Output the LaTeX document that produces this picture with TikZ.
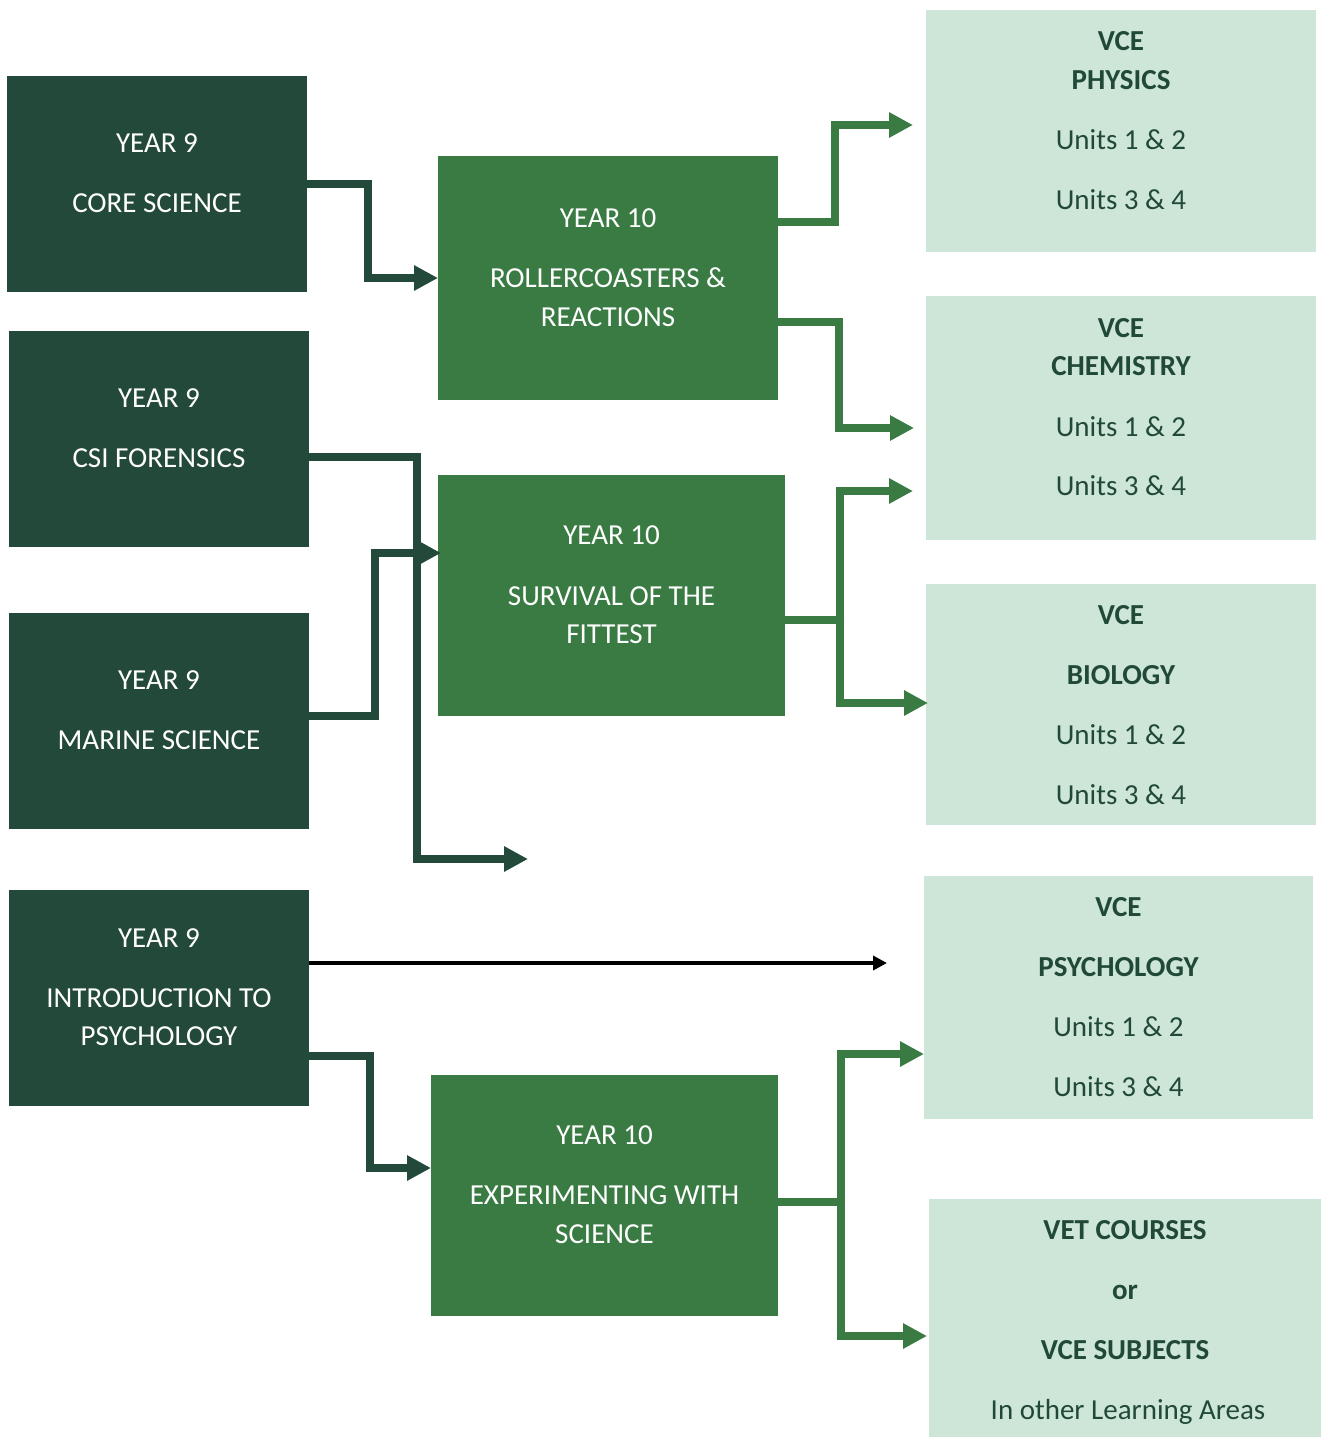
\documentclass[tikz,border=0pt]{standalone}
\usepackage{fontspec}
\setmainfont{Carlito}
\usetikzlibrary{arrows.meta}
\definecolor{darkbox}{HTML}{224939}
\definecolor{midbox}{HTML}{3A7B44}
\definecolor{lightbox}{HTML}{CEE6D8}
\definecolor{inktext}{HTML}{214937}

\begin{document}
\begin{tikzpicture}[x=1pt,y=-1pt,
  box/.style={draw=none, inner sep=0pt, outer sep=0pt, anchor=north west},
  yearnine/.style={box, fill=darkbox, minimum width=300pt, minimum height=216pt},
  yearten/.style={box, fill=midbox},
  vcebox/.style={box, fill=lightbox},
  lbl/.style={anchor=base, inner sep=0pt, font=\fontsize{29}{35}\selectfont},
  wlbl/.style={lbl, text=white},
  dlbl/.style={lbl, text=inktext},
  blbl/.style={dlbl, font=\fontsize{29}{35}\selectfont\bfseries},
  darklink/.style={draw=darkbox, line width=7.5pt, line join=miter,
    -{Triangle[length=24pt,width=24pt]}},
  midlink/.style={draw=midbox, line width=7.5pt, line join=miter,
    -{Triangle[length=24pt,width=24pt]}},
  blacklink/.style={draw=black, line width=4pt,
    -{Triangle[length=14pt,width=14pt]}}
]
\useasboundingbox (0,0) rectangle (1323,1438);

% Year 9 boxes
\node[yearnine] (core) at (7,76) {};
\node[yearnine] (csi) at (9,331) {};
\node[yearnine] (marine) at (9,613) {};
\node[yearnine] (psy9) at (9,890) {};

% Year 10 boxes
\node[yearten, minimum width=340pt, minimum height=244pt] (roller) at (438,156) {};
\node[yearten, minimum width=347pt, minimum height=241pt] (survival) at (438,475) {};
\node[yearten, minimum width=347pt, minimum height=241pt] (exper) at (431,1075) {};

% VCE / VET boxes
\node[vcebox, minimum width=390pt, minimum height=242pt] (physics) at (926,10) {};
\node[vcebox, minimum width=390pt, minimum height=244pt] (chem) at (926,296) {};
\node[vcebox, minimum width=390pt, minimum height=241pt] (bio) at (926,584) {};
\node[vcebox, minimum width=389pt, minimum height=243pt] (psych) at (924,876) {};
\node[vcebox, minimum width=392pt, minimum height=238pt] (vet) at (929,1199) {};

% Year 9 labels
\node[wlbl] (coreA) at (157,152.5) {YEAR 9};
\node[wlbl] (coreB) at (157,212.5) {CORE SCIENCE};
\node[wlbl] (csiA) at (159,407.5) {YEAR 9};
\node[wlbl] (csiB) at (159,467.5) {CSI FORENSICS};
\node[wlbl] (marineA) at (159,689.5) {YEAR 9};
\node[wlbl] (marineB) at (159,749.5) {MARINE SCIENCE};
\node[wlbl] (psy9A) at (159,947.5) {YEAR 9};
\node[wlbl] (psy9B) at (159,1007.5) {INTRODUCTION TO};
\node[wlbl] (psy9C) at (159,1045.5) {PSYCHOLOGY};

% Year 10 labels
\node[wlbl] (rollerA) at (608,227.5) {YEAR 10};
\node[wlbl] (rollerB) at (608,287.5) {ROLLERCOASTERS \&};
\node[wlbl] (rollerC) at (608,326.5) {REACTIONS};
\node[wlbl] (survA) at (611.5,544.5) {YEAR 10};
\node[wlbl] (survB) at (611.5,605.5) {SURVIVAL OF THE};
\node[wlbl] (survC) at (611.5,643.5) {FITTEST};
\node[wlbl] (experA) at (604.5,1144.5) {YEAR 10};
\node[wlbl] (experB) at (604.5,1204.5) {EXPERIMENTING WITH};
\node[wlbl] (experC) at (604.5,1243.5) {SCIENCE};

% VCE labels
\node[blbl] (physA) at (1121,50.5) {VCE};
\node[blbl] (physB) at (1121,89.5) {PHYSICS};
\node[dlbl] (physC) at (1121,149.5) {Units 1 \& 2};
\node[dlbl] (physD) at (1121,209.5) {Units 3 \& 4};
\node[blbl] (chemA) at (1121,337.5) {VCE};
\node[blbl] (chemB) at (1121,375.5) {CHEMISTRY};
\node[dlbl] (chemC) at (1121,436.5) {Units 1 \& 2};
\node[dlbl] (chemD) at (1121,495.5) {Units 3 \& 4};
\node[blbl] (bioA) at (1121,624.5) {VCE};
\node[blbl] (bioB) at (1121,684.5) {BIOLOGY};
\node[dlbl] (bioC) at (1121,744.5) {Units 1 \& 2};
\node[dlbl] (bioD) at (1121,804.5) {Units 3 \& 4};
\node[blbl] (psychA) at (1118.5,916.5) {VCE};
\node[blbl] (psychB) at (1118.5,976.5) {PSYCHOLOGY};
\node[dlbl] (psychC) at (1118.5,1036.5) {Units 1 \& 2};
\node[dlbl] (psychD) at (1118.5,1096.5) {Units 3 \& 4};
\node[blbl] (vetA) at (1125,1239.5) {VET COURSES};
\node[blbl] (vetB) at (1125,1299.5) {or};
\node[blbl] (vetC) at (1125,1359.5) {VCE SUBJECTS};
\node[dlbl] (vetD) at (1128,1419.5) {In other Learning Areas};

% Free end of the CSI Forensics pathway
\coordinate (csiend) at (528,859);

% Year 9 to Year 10 pathways
\draw[darklink] (core.east) -- ++(61,0) |- (roller.west);
\draw[darklink] ([yshift=5pt]marine.east) -- ++(66,0) |- ([xshift=3pt,yshift=42.5pt]survival.west);
\draw[darklink] ([yshift=-18pt]csi.east) -- ++(108,0) |- (csiend);
\draw[darklink] ([yshift=-58pt]psy9.east) -- ++(61,0) |- ([yshift=27.5pt]exper.west);
\draw[blacklink] ([yshift=35pt]psy9.east) -- ++(578,0);

% Year 10 to VCE / VET pathways
\draw[midlink] ([yshift=56pt]roller.east) -- ++(57,0) |- ([xshift=-13pt,yshift=6pt]physics.west);
\draw[midlink] ([yshift=-44pt]roller.east) -- ++(61,0) |- ([xshift=-12pt,yshift=-10pt]chem.west);
\draw[midlink] ([yshift=-24.5pt]survival.east) -- ++(55,0) |- ([xshift=-13pt,yshift=-73pt]chem.west);
\draw[midlink] ([yshift=-24.5pt]survival.east) -- ++(55,0) |- ([xshift=2pt,yshift=1.5pt]bio.west);
\draw[midlink] ([yshift=-6.5pt]exper.east) -- ++(63,0) |- ([yshift=-56.5pt]psych.west);
\draw[midlink] ([yshift=-6.5pt]exper.east) -- ++(63,0) |- ([xshift=-2pt,yshift=-18pt]vet.west);
\end{tikzpicture}
\end{document}
